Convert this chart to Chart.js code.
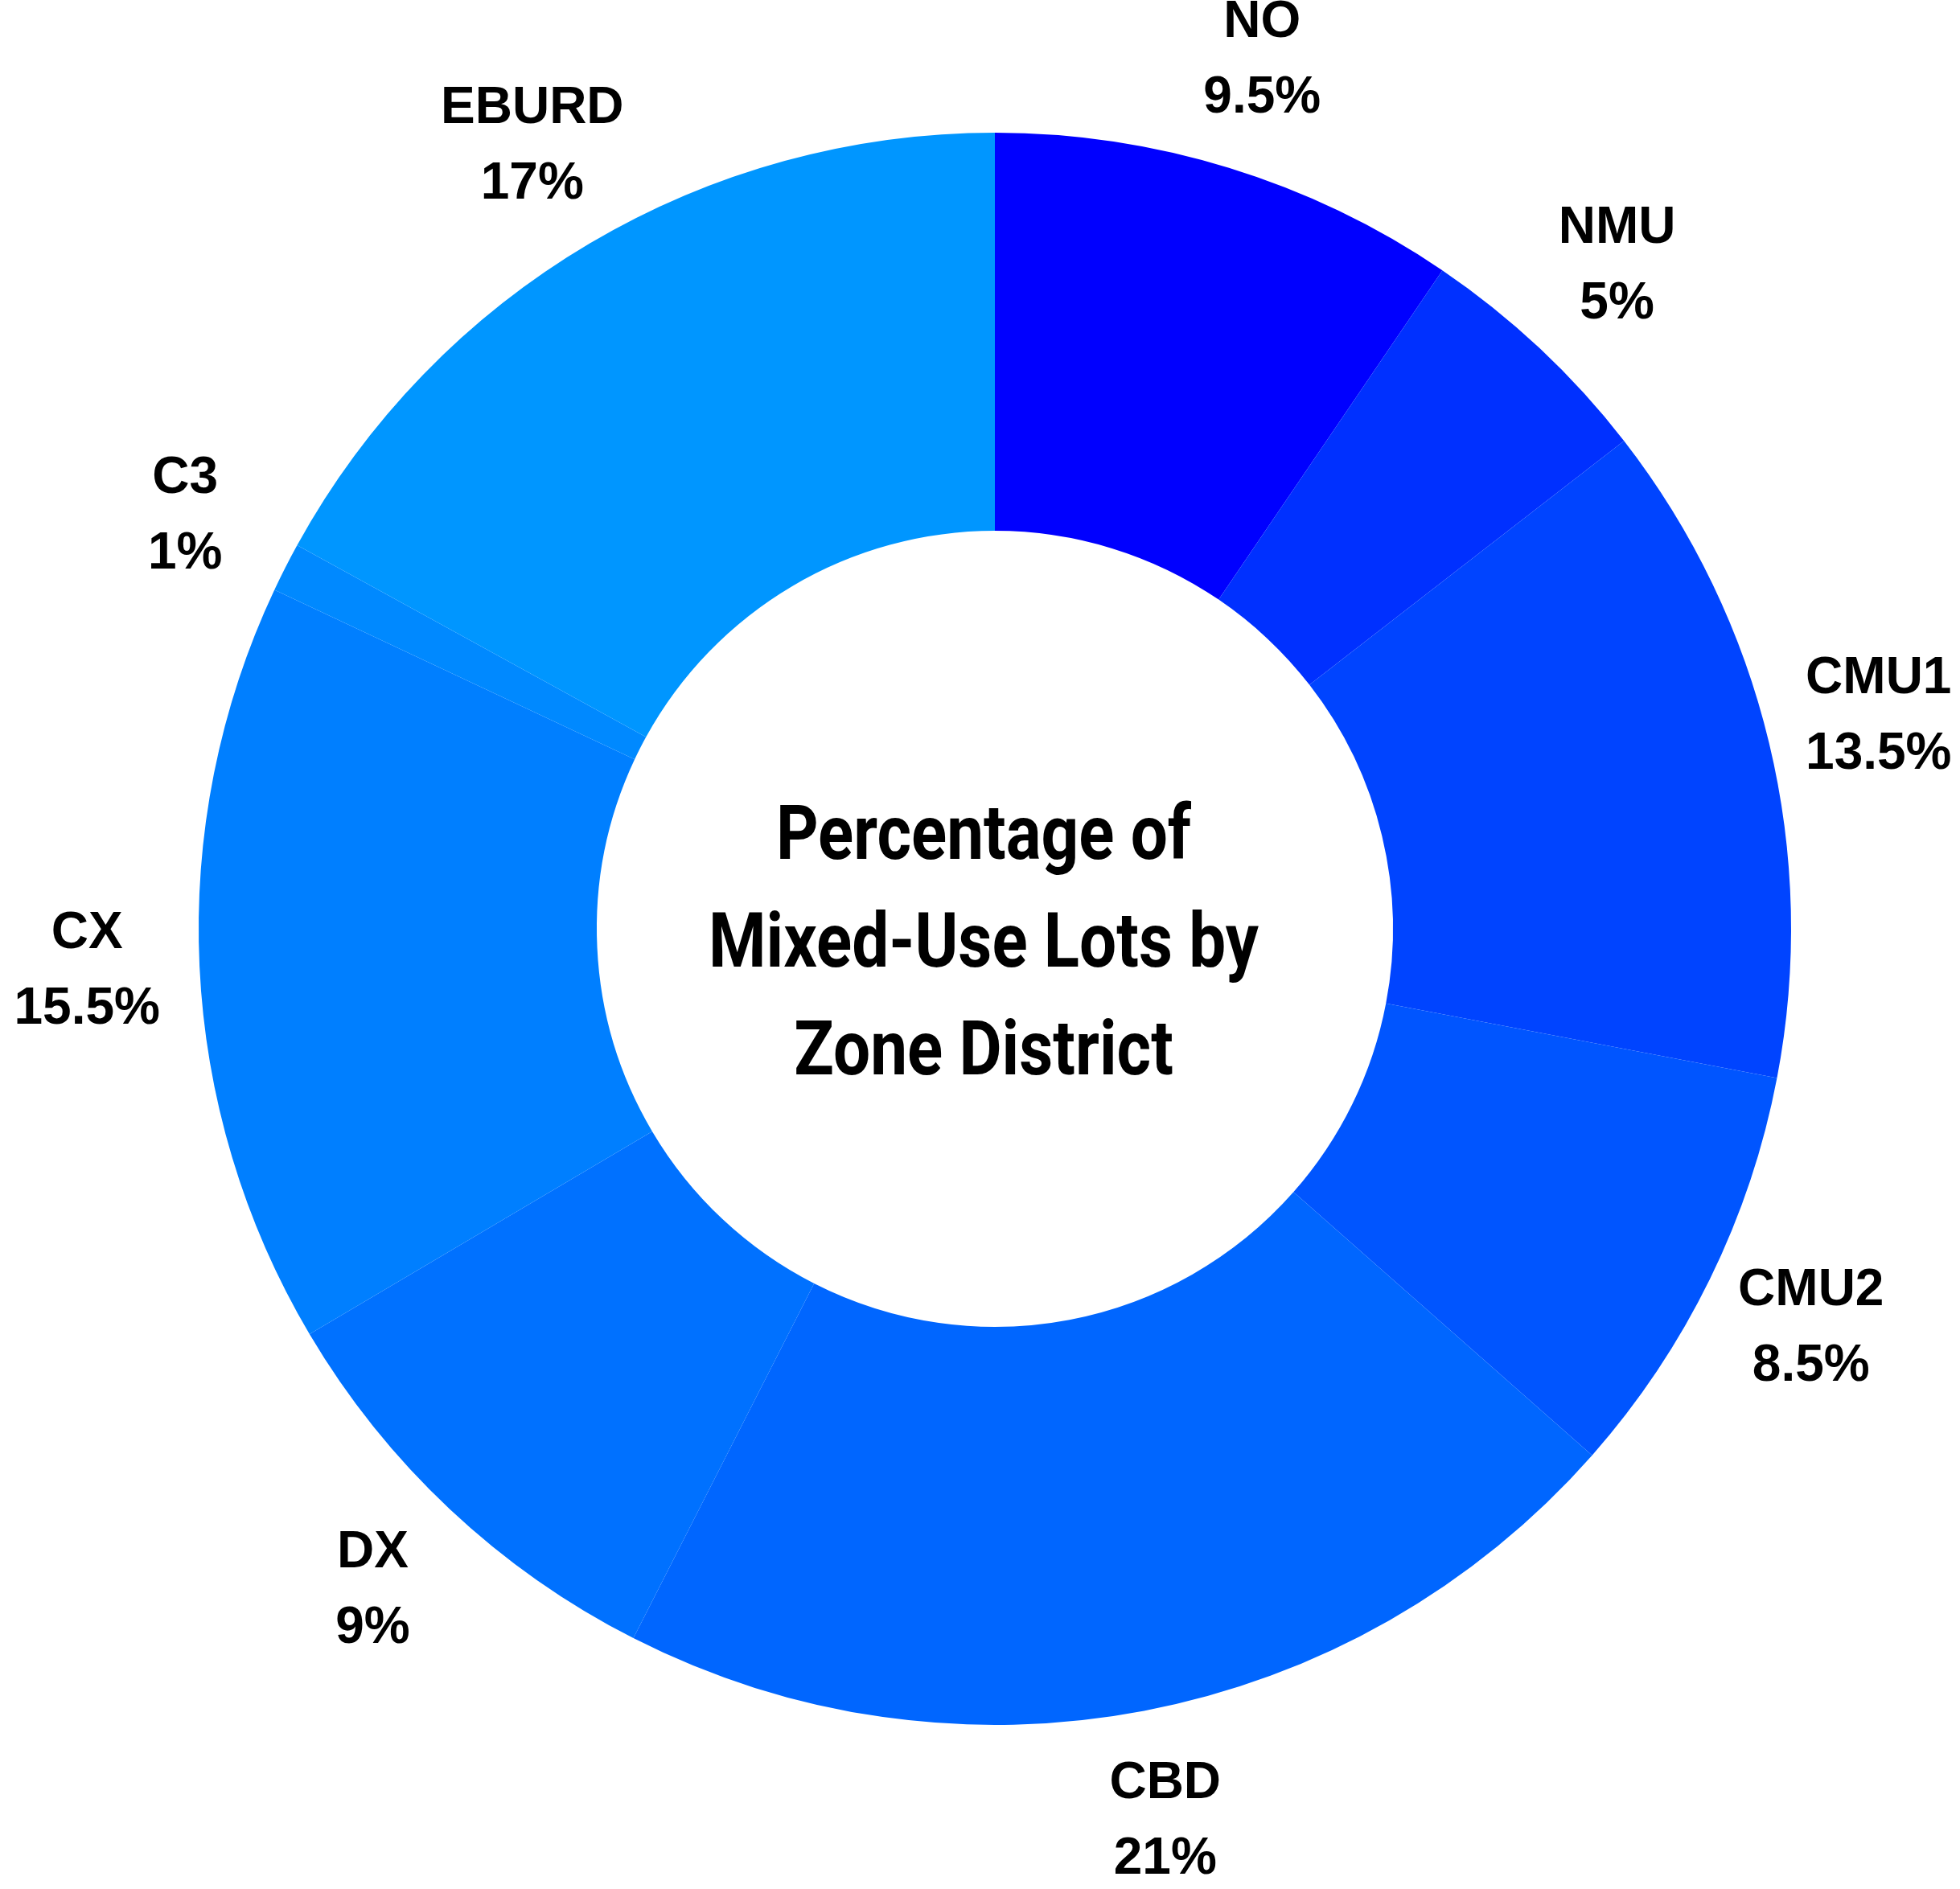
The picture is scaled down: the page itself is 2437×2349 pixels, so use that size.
<!DOCTYPE html>
<html>
<head>
<meta charset="utf-8">
<script src="https://cdn.jsdelivr.net/npm/chart.js@4"></script>
<style>
  html, body { margin: 0; padding: 0; background: #ffffff; }
  #wrap { width: 2437px; height: 2349px; }
</style>
</head>
<body>
<div id="wrap"><canvas id="c" width="2437" height="2349"></canvas></div>
<script>
const categories = ["NO", "NMU", "CMU1", "CMU2", "CBD", "DX", "CX", "C3", "EBURD"];
const values = [9.5, 5, 13.5, 8.5, 21, 9, 15.5, 1, 17];
const valueLabels = ["9.5%", "5%", "13.5%", "8.5%", "21%", "9%", "15.5%", "1%", "17%"];
const sliceColors = ["#0000FF", "#0030FF", "#0044FF", "#0055FF", "#0066FF", "#0071FF", "#007FFF", "#0089FF", "#0096FF"];
const centerTitle = ["Percentage of", "Mixed-Use Lots by", "Zone District"];

const outsideLabels = {
  id: "outsideLabels",
  afterDatasetsDraw(chart) {
    const ctx = chart.ctx;
    const meta = chart.getDatasetMeta(0);
    ctx.save();
    ctx.fillStyle = "#000000";
    ctx.font = "bold 64px 'Liberation Sans', Arial, sans-serif";
    ctx.textAlign = "center";
    ctx.textBaseline = "middle";
    meta.data.forEach((arc, i) => {
      const p = arc.getProps(["x", "y", "startAngle", "endAngle", "outerRadius"], true);
      const mid = (p.startAngle + p.endAngle) / 2;
      const r = p.outerRadius + 140;
      const cx = p.x + Math.cos(mid) * r;
      const cy = p.y + Math.sin(mid) * r;
      ctx.fillText(categories[i], cx, cy - 47);
      ctx.fillText(valueLabels[i], cx, cy + 47);
    });
    ctx.restore();
  }
};

const centerText = {
  id: "centerText",
  afterDatasetsDraw(chart) {
    const ctx = chart.ctx;
    const arc = chart.getDatasetMeta(0).data[0];
    const x = arc.x, y = arc.y;
    ctx.save();
    ctx.fillStyle = "#000000";
    ctx.font = "bold 94px Roboto, 'DejaVu Sans', sans-serif";
    ctx.textAlign = "center";
    ctx.textBaseline = "middle";
    const sx = 0.87;
    const lh = 134;
    centerTitle.forEach((line, i) => {
      ctx.save();
      ctx.translate(x - 14, y + 23 + (i - 1) * lh);
      ctx.scale(sx, 1);
      ctx.fillText(line, 0, 0);
      ctx.restore();
    });
    ctx.restore();
  }
};

new Chart(document.getElementById("c"), {
  type: "doughnut",
  data: {
    labels: categories,
    datasets: [{
      data: values,
      backgroundColor: sliceColors,
      borderWidth: 0,
      hoverOffset: 0
    }]
  },
  options: {
    responsive: false,
    maintainAspectRatio: false,
    devicePixelRatio: 1,
    animation: false,
    cutout: "50%",
    layout: { padding: { left: 247, right: 210, top: 165, bottom: 204 } },
    plugins: {
      legend: { display: false },
      tooltip: { enabled: false }
    }
  },
  plugins: [outsideLabels, centerText]
});
</script>
</body>
</html>
